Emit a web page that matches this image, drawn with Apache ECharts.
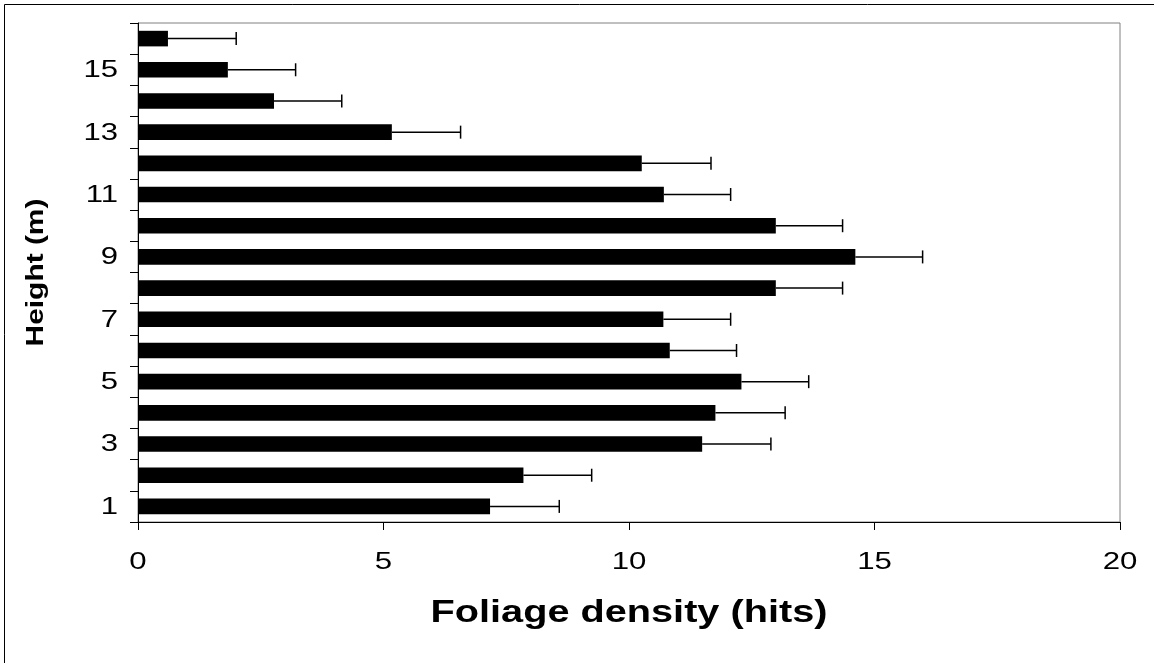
<!DOCTYPE html>
<html>
<head>
<meta charset="utf-8">
<script src="https://cdn.jsdelivr.net/npm/echarts@6/dist/echarts.min.js"></script>
<style>
  html, body { margin: 0; padding: 0; background: #fff; }
  #chart { width: 1154px; height: 663px; }
</style>
</head>
<body>
<div id="chart"></div>
<script>
// Heights (m) — categories, bottom to top
const heights = ['1','2','3','4','5','6','7','8','9','10','11','12','13','14','15','16'];
// Mean foliage density (hits)
const density = [7.17, 7.85, 11.49, 11.76, 12.29, 10.83, 10.70, 12.99, 14.61, 12.99, 10.71, 10.26, 5.17, 2.77, 1.83, 0.61];
// Positive error (hits)
const errPlus = [1.41, 1.39, 1.40, 1.42, 1.37, 1.36, 1.37, 1.36, 1.37, 1.36, 1.36, 1.41, 1.40, 1.38, 1.38, 1.39];
// Tick labels
const xTickLabels = [0, 5, 10, 15, 20];
const yTickLabels = ['1','3','5','7','9','11','13','15'];
const xTitle = 'Foliage density (hits)';
const yTitle = 'Height (m)';

const errData = density.map((v, i) => [i, v, errPlus[i]]);

const chart = echarts.init(document.getElementById('chart'), null, { renderer: 'canvas' });
const FONT = 'Liberation Sans, Arial, sans-serif';

chart.setOption({
  animation: false,
  backgroundColor: '#fff',
  grid: {
    left: 138, right: 34, top: 23, bottom: 141,
    show: true, borderColor: '#808080', borderWidth: 1, backgroundColor: 'transparent'
  },
  xAxis: {
    type: 'value',
    min: xTickLabels[0], max: xTickLabels[xTickLabels.length - 1], interval: xTickLabels[1] - xTickLabels[0],
    splitLine: { show: false },
    axisLine: { show: true, lineStyle: { color: '#000', width: 1 } },
    axisTick: { show: true, inside: false, length: 8, lineStyle: { color: '#000' } },
    axisLabel: { show: false }
  },
  yAxis: {
    type: 'category',
    data: heights,
    axisLine: { show: true, lineStyle: { color: '#000', width: 1 } },
    axisTick: { show: true, interval: 0, length: 8, lineStyle: { color: '#000' } },
    axisLabel: { show: false },
    splitLine: { show: false }
  },
  series: [{
    type: 'bar',
    data: density,
    barCategoryGap: '50%',
    itemStyle: { color: '#000' },
    z: 2
  }, {
    type: 'custom',
    data: errData,
    z: 3,
    renderItem: function (params, api) {
      const cat = api.value(0);
      const v = api.value(1);
      const e = api.value(2);
      const p0 = api.coord([v, cat]);
      const p1 = api.coord([v + e, cat]);
      const capH = 6.5;
      return {
        type: 'group',
        children: [{
          type: 'line',
          shape: { x1: p0[0], y1: p0[1], x2: p1[0], y2: p1[1] },
          style: { stroke: '#000', lineWidth: 1.5 }
        }, {
          type: 'line',
          shape: { x1: p1[0], y1: p1[1] - capH, x2: p1[0], y2: p1[1] + capH },
          style: { stroke: '#000', lineWidth: 1.5 }
        }]
      };
    },
    encode: { x: 1, y: 0 }
  }]
});

// Text drawn as real text, positioned through the chart's own axis scales
const gfx = [{
  type: 'rect', silent: true, z: 100,
  shape: { x: 4.5, y: 4.5, width: 1300, height: 800 },
  style: { fill: 'none', stroke: '#000', lineWidth: 1 }
}];
const yAxisX = chart.convertToPixel({ xAxisIndex: 0 }, 0);
xTickLabels.forEach(function (v) {
  const px = chart.convertToPixel({ xAxisIndex: 0 }, v);
  gfx.push({
    type: 'text', silent: true, x: px, y: 562, scaleX: 1.3,
    style: { text: String(v), font: '24px ' + FONT, fill: '#000', align: 'center', verticalAlign: 'middle' }
  });
});
yTickLabels.forEach(function (c) {
  const py = chart.convertToPixel({ yAxisIndex: 0 }, c);
  gfx.push({
    type: 'text', silent: true, x: yAxisX - 20, y: py + 1, scaleX: 1.35,
    style: { text: c, font: '23px ' + FONT, fill: '#000', align: 'right', verticalAlign: 'middle' }
  });
});
const xMid = (chart.convertToPixel({ xAxisIndex: 0 }, xTickLabels[0]) + chart.convertToPixel({ xAxisIndex: 0 }, xTickLabels[xTickLabels.length - 1])) / 2;
const yMid = (chart.convertToPixel({ yAxisIndex: 0 }, heights[0]) + chart.convertToPixel({ yAxisIndex: 0 }, heights[heights.length - 1])) / 2;
gfx.push({
  type: 'text', silent: true, x: xMid, y: 613, scaleX: 1.28,
  style: { text: xTitle, font: 'bold 31px ' + FONT, fill: '#000', align: 'center', verticalAlign: 'middle' }
});
gfx.push({
  type: 'text', silent: true, x: 37, y: yMid, rotation: Math.PI / 2, scaleX: 1.3,
  style: { text: yTitle, font: 'bold 23px ' + FONT, fill: '#000', align: 'center', verticalAlign: 'middle' }
});
chart.setOption({ graphic: gfx });
</script>
</body>
</html>
